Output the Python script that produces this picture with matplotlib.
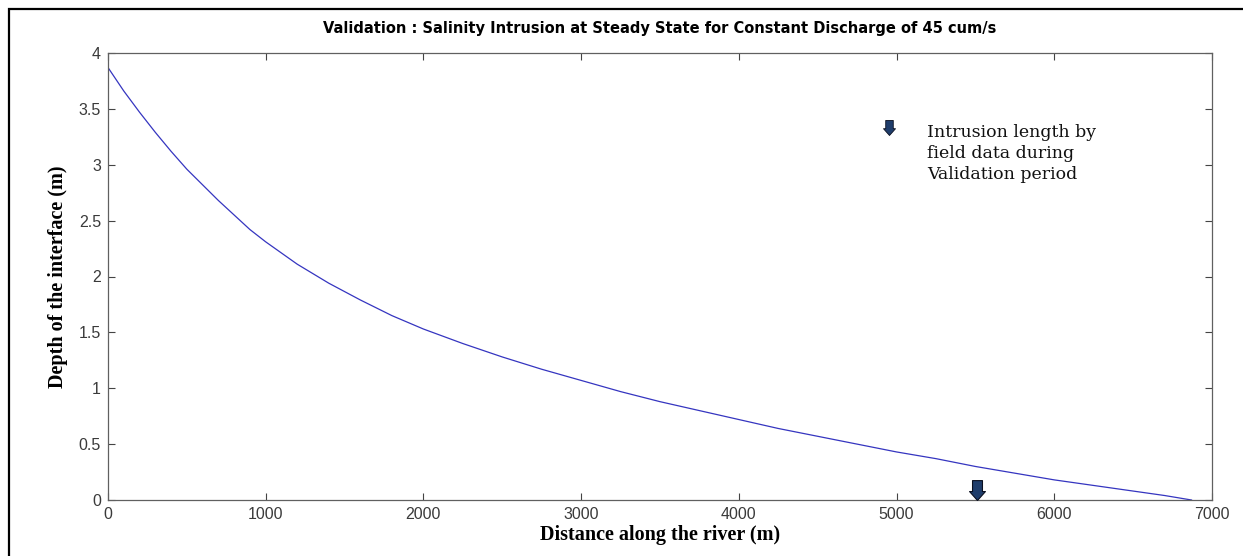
import matplotlib
matplotlib.use("Agg")
import matplotlib.pyplot as plt
from matplotlib.path import Path
from matplotlib.patches import Rectangle

# Interface depth along the river (steady state, Q = 45 cum/s)
distance_m = [0, 100, 200, 300, 400, 500, 600, 700, 800, 900, 1000, 1200, 1400, 1600,
              1800, 2000, 2250, 2500, 2750, 3000, 3250, 3500, 3750, 4000, 4250, 4500,
              4750, 5000, 5250, 5500, 5750, 6000, 6250, 6500, 6700, 6870]
depth_m = [3.87, 3.66, 3.47, 3.29, 3.12, 2.96, 2.82, 2.68, 2.55, 2.42, 2.31, 2.11, 1.94, 1.79,
           1.65, 1.53, 1.40, 1.28, 1.17, 1.07, 0.97, 0.88, 0.80, 0.72, 0.64, 0.57,
           0.50, 0.43, 0.37, 0.30, 0.24, 0.18, 0.13, 0.08, 0.04, 0.0]

# Observed intrusion length (field data)
field_length_m = [5510]
field_depth_m = [0.0]

x_ticks = [0, 1000, 2000, 3000, 4000, 5000, 6000, 7000]
y_ticks = [0, 0.5, 1, 1.5, 2, 2.5, 3, 3.5, 4]
y_tick_labels = ["0", "0.5", "1", "1.5", "2", "2.5", "3", "3.5", "4"]

title = "Validation : Salinity Intrusion at Steady State for Constant Discharge of 45 cum/s"
legend_text = "Intrusion length by\nfield data during\nValidation period"

W, H = 1243, 556
fig = plt.figure(figsize=(W / 100, H / 100), dpi=100)
fig.patch.set_facecolor("white")

# outer frame
fig.add_artist(Rectangle((9 / W, -0.2), 1.2, (H - 9) / H + 0.2,
                         transform=fig.transFigure, fill=False,
                         edgecolor="black", linewidth=1.6))

ax = fig.add_axes([108 / W, 56 / H, (1212 - 108) / W, (500 - 53) / H])
ax.plot(distance_m, depth_m, color="#3535c0", linewidth=0.9)

# block-arrow marker, tip at origin
arrow_verts = [(0, 0), (-0.8, 0.9), (-0.5, 0.9), (-0.5, 2.0), (0.5, 2.0), (0.5, 0.9), (0.8, 0.9), (0, 0)]
arrow = Path(arrow_verts, [Path.MOVETO] + [Path.LINETO] * 6 + [Path.CLOSEPOLY])
ax.scatter(field_length_m, field_depth_m, marker=arrow, s=820, color="#1f3d6b",
           edgecolors="#0a0f1f", linewidths=0.8, zorder=5, clip_on=False)

# legend entry
ax.scatter([4952], [3.27], marker=arrow, s=470, color="#1f3d6b",
           edgecolors="#0a0f1f", linewidths=0.6, zorder=5)
ax.text(5193, 3.10, legend_text, fontsize=12.5, family="DejaVu Serif",
        va="center", ha="left", linespacing=1.3, color="#111111")

ax.set_xlim(0, 7000)
ax.set_ylim(0, 4)
ax.set_xticks(x_ticks)
ax.set_xticklabels([str(t) for t in x_ticks])
ax.set_yticks(y_ticks)
ax.set_yticklabels(y_tick_labels)
ax.tick_params(direction="in", length=5, width=0.8, color="#444444", pad=5,
               labelsize=11.5, labelcolor="#3a3a3a", top=True, right=True)
for lab in ax.get_xticklabels() + ax.get_yticklabels():
    lab.set_family("Liberation Sans")
for s in ax.spines.values():
    s.set_color("#606060")
    s.set_linewidth(0.9)

ax.set_xlabel("Distance along the river (m)", family="Liberation Serif",
              fontweight="bold", fontsize=14.5, labelpad=2)
ax.set_ylabel("Depth of the interface (m)", family="Liberation Serif",
              fontweight="bold", fontsize=14.5, labelpad=8)

fig.text(0.5 * (108 + 1212) / W, (H - 29) / H, title, ha="center", va="center",
         family="DejaVu Sans", fontstretch="condensed", fontweight="bold", fontsize=11.7)

fig.savefig("out.png", dpi=100)
